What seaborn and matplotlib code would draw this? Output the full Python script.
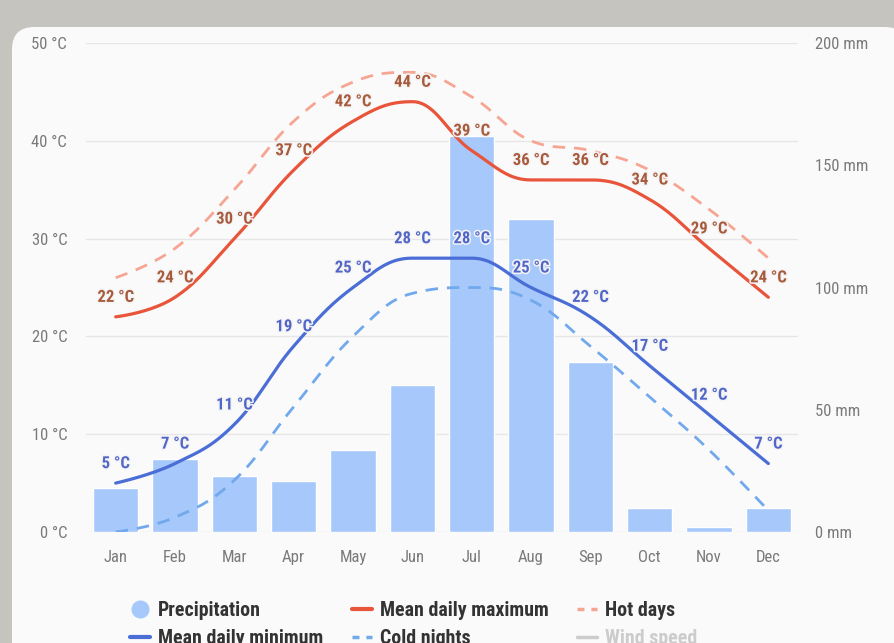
import numpy as np
import pandas as pd
import matplotlib
matplotlib.use("Agg")
import matplotlib.pyplot as plt
import seaborn as sns
from matplotlib.lines import Line2D
from matplotlib.patches import FancyBboxPatch
import matplotlib.patheffects as pe
from matplotlib import font_manager as fm

months = ["Jan", "Feb", "Mar", "Apr", "May", "Jun", "Jul", "Aug", "Sep", "Oct", "Nov", "Dec"]
precipitation = [18, 30, 23, 21, 33.5, 60, 162, 128, 69.5, 10, 2, 10]
mean_max = [22, 24, 30, 37, 42, 44, 39, 36, 36, 34, 29, 24]
hot_days = [26, 29, 35, 42, 46, 47, 44.5, 40, 39, 37, 33, 28]
mean_min = [5, 7, 11, 19, 25, 28, 28, 25, 22, 17, 12, 7]
cold_nights = [0, 1.5, 5.3, 12.8, 20, 24.4, 25, 23.7, 19, 13.8, 8.4, 2.2]
temp_ticks = [0, 10, 20, 30, 40, 50]
precip_ticks = [0, 50, 100, 150, 200]

names = {f.name for f in fm.fontManager.ttflist}
cands = ["Roboto Condensed", "Liberation Sans Narrow", "Open Sans Condensed",
         "Liberation Sans", "DejaVu Sans"]
main_font = next(c for c in cands if c in names)
FONT = [main_font, "DejaVu Sans"]
sns.set_theme(style="white")
plt.rcParams["font.family"] = FONT
narrow = main_font in ("Liberation Sans Narrow", "Roboto Condensed", "Open Sans Condensed")
S = 1.0 if narrow else 0.82  # size scale when no narrow face is present


def hc_spline(y, n=40):
    """Highcharts-style spline through the given points (rendering only)."""
    y = np.asarray(y, float)
    x = np.arange(len(y), dtype=float)
    m = len(y)
    lcx, lcy, rcx, rcy = x.copy(), y.copy(), x.copy(), y.copy()
    sm, den = 1.5, 2.5
    for i in range(1, m - 1):
        lx, ly, nx, ny = x[i - 1], y[i - 1], x[i + 1], y[i + 1]
        a = (sm * x[i] + lx) / den
        b = (sm * y[i] + ly) / den
        c = (sm * x[i] + nx) / den
        d = (sm * y[i] + ny) / den
        corr = ((d - b) * (c - x[i])) / (c - a) + y[i] - d
        b += corr
        d += corr
        if b > ly and b > y[i]:
            b = max(ly, y[i]); d = 2 * y[i] - b
        elif b < ly and b < y[i]:
            b = min(ly, y[i]); d = 2 * y[i] - b
        if d > ny and d > y[i]:
            d = max(ny, y[i]); b = 2 * y[i] - d
        elif d < ny and d < y[i]:
            d = min(ny, y[i]); b = 2 * y[i] - d
        lcx[i], lcy[i], rcx[i], rcy[i] = a, b, c, d
    t = np.linspace(0, 1, n)[:, None]
    xs, ys = [], []
    for i in range(1, m):
        P0 = np.array([x[i - 1], y[i - 1]]); P1 = np.array([rcx[i - 1], rcy[i - 1]])
        P2 = np.array([lcx[i], lcy[i]]); P3 = np.array([x[i], y[i]])
        B = (1 - t) ** 3 * P0 + 3 * (1 - t) ** 2 * t * P1 + 3 * (1 - t) * t ** 2 * P2 + t ** 3 * P3
        xs.append(B[:, 0]); ys.append(B[:, 1])
    return np.concatenate(xs), np.concatenate(ys)


W, H = 895, 643
fig = plt.figure(figsize=(W / 100, H / 100), dpi=100)
fig.patch.set_facecolor("#c6c4bf")
card = FancyBboxPatch((12 / W, -0.05), 1.0, (643 - 27) / H + 0.05,
                      boxstyle="round,pad=0,rounding_size=0.025",
                      transform=fig.transFigure, facecolor="#fafafa",
                      edgecolor="none", zorder=-5, mutation_aspect=W / H)
fig.patches.append(card)

left, right, bottom, top = 86 / W, 798 / W, 1 - 532 / H, 1 - 43 / H
ax2 = fig.add_axes([left, bottom, right - left, top - bottom])  # precipitation (right)
ax = ax2.twinx()  # temps
ax2.patch.set_visible(False)
ax.patch.set_visible(False)

df = pd.DataFrame({"month": months, "precip": precipitation})
sns.barplot(data=df, x="month", y="precip", ax=ax2, color="#a6c8fb",
            saturation=1, width=0.76, zorder=2)
ax2.set_ylim(0, 200)
ax2.set_xlim(-0.5, 11.5)
for v in temp_ticks:
    ax2.axhline(v * 4, color="#e6e6e6", lw=1, zorder=0)

ax.set_ylim(0, 50)
ax.yaxis.set_label_position("left")
ax.yaxis.tick_left()
ax2.yaxis.tick_right()
ax2.yaxis.set_label_position("right")

series = [
    (hot_days, "#f6a593", (0, (4.5, 3.2)), 2.0),
    (cold_nights, "#71a9ec", (0, (4.5, 3.2)), 2.0),
    (mean_max, "#e8553a", "-", 2.3),
    (mean_min, "#4a6ed6", "-", 2.3),
]
for vals, col, ls, lw in series:
    sx, sy = hc_spline(vals)
    sns.lineplot(x=sx, y=sy, ax=ax, color=col, linestyle=ls, lw=lw, sort=False,
                 estimator=None, zorder=3)

outline = [pe.withStroke(linewidth=2.2, foreground="#f4f4f4")]
for i, v in enumerate(mean_max):
    ax.annotate(f"{v} °C", (i, v), xytext=(0, 14), textcoords="offset points",
                ha="center", va="center", fontsize=12 * S, fontweight="bold",
                color="#a85a3c", path_effects=outline, zorder=5)
for i, v in enumerate(mean_min):
    ax.annotate(f"{v} °C", (i, v), xytext=(0, 14), textcoords="offset points",
                ha="center", va="center", fontsize=12 * S, fontweight="bold",
                color="#5266c8", path_effects=outline, zorder=5)

ax.set_yticks(temp_ticks)
ax.set_yticklabels([f"{t} °C" for t in temp_ticks])
ax2.set_yticks(precip_ticks)
ax2.set_yticklabels([f"{p} mm" for p in precip_ticks])
ax.tick_params(axis="y", length=0, pad=13.5, labelsize=12 * S, labelcolor="#7a7a7a")
ax2.tick_params(axis="y", length=0, pad=12.5, labelsize=12 * S, labelcolor="#7a7a7a")
ax2.tick_params(axis="x", length=0, pad=13, labelsize=12 * S, labelcolor="#7a7a7a")
ax.tick_params(axis="x", length=0)
ax2.set_xlabel(""); ax2.set_ylabel(""); ax.set_ylabel("")
for a in (ax, ax2):
    for s in a.spines.values():
        s.set_visible(False)
    a.grid(False)

handles = [
    Line2D([], [], marker="o", ls="none", markersize=13, markerfacecolor="#a6c8fb",
           markeredgecolor="none"),
    Line2D([], [], color="#4a6ed6", lw=3),
    Line2D([], [], color="#e8553a", lw=3),
    Line2D([], [], color="#71a9ec", lw=2.5, ls=(0, (2, 2))),
    Line2D([], [], color="#f6a593", lw=2.5, ls=(0, (2, 2))),
    Line2D([], [], color="#cccccc", lw=2.5),
]
labels = ["Precipitation", "Mean daily minimum", "Mean daily maximum",
          "Cold nights", "Hot days", "Wind speed"]
leg = fig.legend(handles, labels, ncol=3, loc="upper left",
                 bbox_to_anchor=(130 / W, 1 - 601 / H), frameon=False,
                 prop={"family": FONT, "weight": "bold", "size": 14.3 * S},
                 handlelength=1.0, handletextpad=0.4, columnspacing=1.45,
                 labelspacing=0.45, borderaxespad=0, borderpad=0)
for i, t in enumerate(leg.get_texts()):
    t.set_color("#cccccc" if labels[i] == "Wind speed" else "#333333")

fig.savefig("out.png", dpi=100, facecolor=fig.get_facecolor())
